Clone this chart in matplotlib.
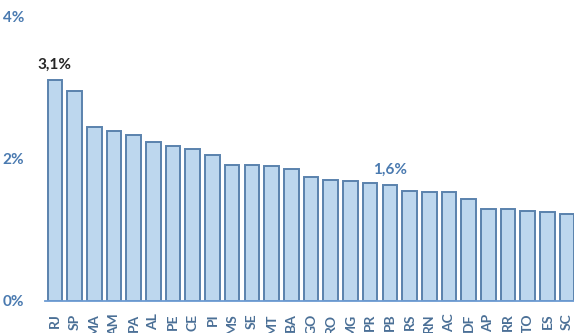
import matplotlib.pyplot as plt
import numpy as np

plt.rcParams['font.family'] = ['Lato', 'DejaVu Sans']

# percentage per state, sorted high to low
states = ['RJ', 'SP', 'MA', 'AM', 'PA', 'AL', 'PE', 'CE', 'PI', 'MS', 'SE', 'MT', 'BA', 'GO',
          'RO', 'MG', 'PR', 'PB', 'RS', 'RN', 'AC', 'DF', 'AP', 'RR', 'TO', 'ES', 'SC']
values = [3.11, 2.96, 2.45, 2.40, 2.34, 2.24, 2.19, 2.14, 2.06, 1.92, 1.92, 1.90, 1.86, 1.75,
          1.70, 1.69, 1.66, 1.63, 1.55, 1.54, 1.54, 1.43, 1.30, 1.30, 1.27, 1.25, 1.22]
y_ticks = [0, 2, 4]
highlight = {'RJ': '#262626', 'PB': '#4a7ab0'}

fig = plt.figure(figsize=(5.74, 3.33), dpi=100)
ax = fig.add_axes([45 / 574, 32 / 333, 532 / 574, 284 / 333])

x = np.arange(len(states))
ax.bar(x, values, width=0.74, color='#bdd7ee', edgecolor='#5a82ad', linewidth=1.4, zorder=2)

ax.set_xlim(-0.5, len(states) - 0.5)
ax.set_ylim(0, 4)
ax.set_yticks(y_ticks)
ax.set_yticklabels([f'{t}%' for t in y_ticks], fontsize=11, fontweight='bold', color='#4a7ab0')
ax.set_xticks(x)
ax.set_xticklabels(states, rotation=90, fontsize=10, fontweight='bold', color='#4a6f96')
ax.tick_params(axis='y', length=0, pad=15)
ax.tick_params(axis='x', length=0, pad=9)

for s in ['top', 'right', 'left']:
    ax.spines[s].set_visible(False)
ax.spines['bottom'].set_color('#6c9bd2')
ax.spines['bottom'].set_linewidth(1.3)

# value labels on selected states
for name, col in highlight.items():
    i = states.index(name)
    v = values[i]
    ax.annotate(f'{v:.1f}%'.replace('.', ','), (i, v), xytext=(0, 6), textcoords='offset points',
                ha='center', va='bottom', fontsize=11, fontweight='bold', color=col)

fig.savefig('out.png', dpi=100)
